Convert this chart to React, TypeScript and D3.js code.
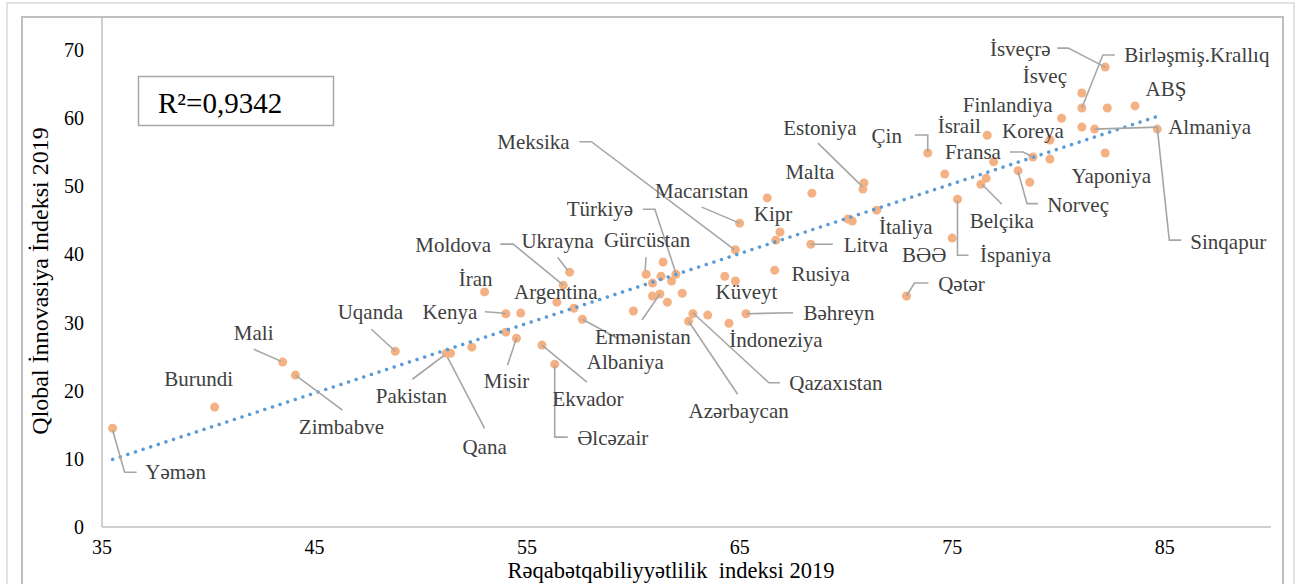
import React from "react";
import * as d3 from "d3";

// ---------- DATA ----------
const countries: string[] = [
  "Yəmən", "Burundi", "Mali", "Zimbabve", "Uqanda", "Pakistan", "Qana", "", "İran", "Kenya",
  "", "", "Misir", "Ukrayna", "Moldova", "Argentina", "", "Albaniya", "Ekvador", "Əlcəzair",
  "", "Gürcüstan", "", "Türkiyə", "", "", "", "Ermənistan", "", "",
  "", "Qazaxıstan", "Azərbaycan", "", "İndoneziya", "Bəhreyn", "", "Küveyt", "Meksika", "Macarıstan",
  "", "Malta", "Estoniya", "", "Kipr", "", "Litva", "", "", "İtaliya",
  "Rusiya", "Çin", "", "", "Belçika", "", "Fransa", "İsrail", "Koreya", "",
  "Norveç", "", "İspaniya", "BƏƏ", "Qətər", "Finlandiya", "İsveç", "Birləşmiş.Krallıq", "İsveçrə", "",
  "ABŞ", "", "Almaniya", "Sinqapur", "Yaponiya",
];
const competitiveness: number[] = [
  35.5, 40.3, 43.5, 44.1, 48.8, 51.2, 51.4, 52.4, 53.0, 54.0,
  54.7, 54.0, 54.5, 57.0, 56.7, 56.4, 57.2, 57.6, 55.7, 56.3,
  61.4, 60.6, 61.3, 62.0, 61.8, 60.9, 60.9, 61.25, 61.6, 62.3,
  60.0, 62.8, 62.6, 63.5, 64.5, 65.3, 64.3, 64.8, 64.8, 65.0,
  66.3, 68.4, 70.8, 70.85, 66.9, 66.7, 68.35, 70.1, 70.3, 71.45,
  66.65, 73.85, 74.65, 76.6, 76.35, 76.95, 78.8, 76.65, 79.6, 79.6,
  78.1, 78.65, 75.25, 75.0, 72.85, 80.15, 81.1, 81.1, 82.2, 82.3,
  83.6, 81.1, 81.7, 84.65, 82.2,
];
const innovation: number[] = [
  14.5, 17.6, 24.2, 22.3, 25.8, 25.5, 25.5, 26.4, 34.5, 31.3,
  31.4, 28.6, 27.7, 37.4, 35.5, 33.0, 32.1, 30.5, 26.7, 23.9,
  38.9, 37.1, 36.8, 37.1, 36.1, 35.8, 33.9, 34.2, 33.0, 34.3,
  31.7, 31.3, 30.2, 31.1, 29.9, 31.3, 36.8, 36.1, 40.7, 44.6,
  48.3, 49.0, 49.6, 50.5, 43.3, 42.1, 41.5, 45.2, 44.9, 46.5,
  37.7, 54.9, 51.8, 51.2, 50.3, 53.6, 54.3, 57.5, 56.8, 54.0,
  52.3, 50.6, 48.1, 42.4, 33.9, 60.0, 63.7, 61.5, 67.5, 61.5,
  61.8, 58.7, 58.4, 58.4, 54.9,
];
const xTicks: number[] = [35, 45, 55, 65, 75, 85];
const yTicks: number[] = [0, 10, 20, 30, 40, 50, 60, 70];
const xTitle = "Rəqabətqabiliyyətlilik  indeksi 2019";
const yTitle = "Qlobal İnnovasiya İndeksi 2019";
const r2Text = "R²=0,9342";

// ---------- LABEL LAYOUT (pixel offsets from the point) ----------
type Lay = { d: [number, number]; l?: [number, number][] };
const labelLayout: Record<string, Lay> = {
  "Yəmən": { d: [63, 51], l: [[0, 2], [12, 44], [24, 44]] },
  "Burundi": { d: [-16, -21] },
  "Mali": { d: [-29, -22], l: [[-29, -13], [-2, -1]] },
  "Zimbabve": { d: [46, 59], l: [[0, 0], [47, 35]] },
  "Uqanda": { d: [-25, -32], l: [[-24, -22], [0, 0]] },
  "Pakistan": { d: [-35, 50], l: [[-34, 26], [-2, 2]] },
  "Qana": { d: [34, 101], l: [[34, 75], [-3, 4]] },
  "İran": { d: [-9, -6] },
  "Kenya": { d: [-56, 5], l: [[-21, -2], [-7, -1], [0, 0]] },
  "Misir": { d: [-10, 50], l: [[-9, 27], [0, 0]] },
  "Ukrayna": { d: [-12, -24], l: [[-12, -15], [-2, -2]] },
  "Moldova": { d: [-110, -33], l: [[-63, -41], [-50, -41], [0, 0]] },
  "Argentina": { d: [-1, -3] },
  "Albaniya": { d: [43, 50], l: [[0, 0], [35, 19]] },
  "Ekvador": { d: [46, 61], l: [[0, 0], [45, 37]] },
  "Əlcəzair": { d: [58, 81], l: [[0, 1], [0, 73], [13, 73]] },
  "Gürcüstan": { d: [1, -27], l: [[0, -17], [-1, -4]] },
  "Türkiyə": { d: [-76, -58], l: [[-33, -65], [-21, -65], [0, -1]] },
  "Ermənistan": { d: [-17, 50], l: [[-18, 26], [0, 0]] },
  "Meksika": { d: [-202, -101], l: [[-156, -108], [-144, -108], [-1, 0]] },
  "Macarıstan": { d: [-38, -25], l: [[-38, -16], [0, 0]] },
  "Kipr": { d: [-7, -11] },
  "Malta": { d: [-2, -14] },
  "Estoniya": { d: [-43, -54], l: [[-45, -46], [0, -2]] },
  "Litva": { d: [55, 8], l: [[0, 0], [22, 0]] },
  "İtaliya": { d: [29, 24] },
  "Rusiya": { d: [46, 11] },
  "Küveyt": { d: [11, 18] },
  "Bəhreyn": { d: [93, 6], l: [[0, 0], [47, -1]] },
  "İndoneziya": { d: [47, 24] },
  "Qazaxıstan": { d: [143, 76], l: [[0, -1], [76, 69], [87, 69]] },
  "Azərbaycan": { d: [50, 97], l: [[0, 0], [49, 73]] },
  "Çin": { d: [-41, -10], l: [[-13, -18], [0, -18], [0, -1]] },
  "İsrail": { d: [-28, -2] },
  "Koreya": { d: [-17, -2] },
  "Fransa": { d: [-60, 2], l: [[-23, -5], [-10, -5], [0, 0]] },
  "Belçika": { d: [21, 44], l: [[1, 0], [21, 20]] },
  "Norveç": { d: [60, 41], l: [[0, 1], [9, 33], [20, 33]] },
  "İspaniya": { d: [58, 63], l: [[0, 1], [0, 56], [11, 56]] },
  "BƏƏ": { d: [-28, 24] },
  "Qətər": { d: [55, -5], l: [[0, 0], [8, -13], [22, -13]] },
  "Finlandiya": { d: [-54, -6] },
  "İsveç": { d: [-37, -10] },
  "İsveçrə": { d: [-85, -11], l: [[-48, -19], [-37, -19], [0, 0]] },
  "Birləşmiş.Krallıq": { d: [115, -46], l: [[0, 0], [21, -53], [33, -53]] },
  "ABŞ": { d: [31, -10] },
  "Almaniya": { d: [115, 5], l: [[0, 0], [63, -2]] },
  "Sinqapur": { d: [71, 120], l: [[0, -1], [12, 111], [24, 111]] },
  "Yaponiya": { d: [6, 30] },
};

const FONT = "Liberation Serif, Times New Roman, DejaVu Serif, serif";
const serif: React.CSSProperties = { fontFamily: FONT };

export default function App() {
  const W = 1296, H = 584;
  const x = d3.scaleLinear().domain([35, 90]).range([102, 1271]);
  const y = d3.scaleLinear().domain([0, 75]).range([527, 16]);

  const pts = competitiveness.map((cx, i) => ({ name: countries[i], cx, cy: innovation[i] }));

  // least-squares trendline
  const mx = d3.mean(pts, (p) => p.cx)!;
  const my = d3.mean(pts, (p) => p.cy)!;
  const sxy = d3.sum(pts, (p) => (p.cx - mx) * (p.cy - my));
  const sxx = d3.sum(pts, (p) => (p.cx - mx) ** 2);
  const slope = sxy / sxx;
  const icpt = my - slope * mx;
  const [x0, x1] = d3.extent(pts, (p) => p.cx) as [number, number];
  const trend = d3.line<number>().x((v) => x(v)).y((v) => y(slope * v + icpt))([x0, x1]);

  const lineGen = d3.line<[number, number]>();

  return (
    <svg width={W} height={H} style={{ position: "absolute", left: 0, top: 0, background: "#fff", ...serif }}>
      {/* chart frames */}
      <rect x={7} y={3} width={1287} height={600} fill="none" stroke="#D9D9D9" strokeWidth={1.5} />
      <rect x={22} y={17} width={1261} height={590} fill="none" stroke="#BFBFBF" strokeWidth={2} />

      {/* axes */}
      <line x1={x(35)} x2={x(90)} y1={y(0)} y2={y(0)} stroke="#BFBFBF" strokeWidth={1.5} />
      <line x1={x(35)} x2={x(35)} y1={y(0)} y2={y(75)} stroke="#BFBFBF" strokeWidth={1.5} />

      {xTicks.map((t) => (
        <text key={"x" + t} x={x(t)} y={554} textAnchor="middle" style={serif} fontSize={20} fill="#000">
          {t}
        </text>
      ))}
      {yTicks.map((t) => (
        <text key={"y" + t} x={84} y={y(t)} dy="0.35em" textAnchor="end" style={serif} fontSize={20} fill="#000">
          {t}
        </text>
      ))}

      <text x={671} y={578} textAnchor="middle" style={{ ...serif, whiteSpace: "pre" }} fontSize={22.5} fill="#000">
        {xTitle}
      </text>
      <text transform="translate(48,281) rotate(-90)" textAnchor="middle" style={serif} fontSize={24} fill="#000">
        {yTitle}
      </text>

      {/* markers */}
      {pts.map((p, i) => (
        <circle key={"p" + i} cx={x(p.cx)} cy={y(p.cy)} r={4.5} fill="#F4B183" />
      ))}

      {/* trendline */}
      <path d={trend || ""} fill="none" stroke="#5B9BD5" strokeWidth={3.5} strokeLinecap="round" strokeDasharray="0.01 8" />

      {/* leaders */}
      {pts.map((p, i) => {
        const lay = labelLayout[p.name];
        if (!p.name || !lay || !lay.l) return null;
        const px = x(p.cx), py = y(p.cy);
        const path = lineGen(lay.l.map(([dx, dy]) => [px + dx, py + dy] as [number, number]));
        return <path key={"l" + i} d={path || ""} fill="none" stroke="#A6A6A6" strokeWidth={1.6} />;
      })}

      {/* labels */}
      {pts.map((p, i) => {
        const lay = labelLayout[p.name];
        if (!p.name || !lay) return null;
        return (
          <text key={"t" + i} x={x(p.cx) + lay.d[0]} y={y(p.cy) + lay.d[1]} textAnchor="middle"
            style={serif} fontSize={21} fill="#404040">
            {p.name}
          </text>
        );
      })}

      {/* R² box */}
      <rect x={138.5} y={76.5} width={195} height={49} fill="#fff" stroke="#A6A6A6" strokeWidth={1.5} />
      <text x={158} y={113} style={serif} fontSize={29} fill="#000">{r2Text}</text>
    </svg>
  );
}
